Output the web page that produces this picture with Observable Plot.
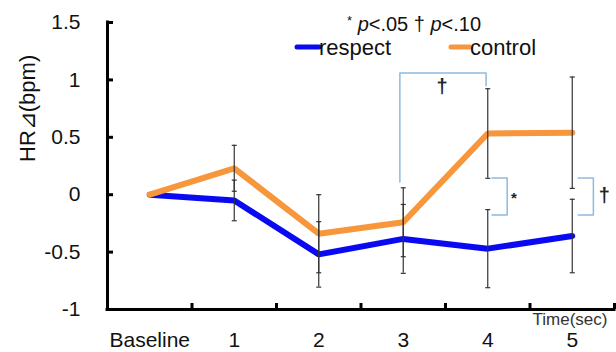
<!DOCTYPE html>
<html>
<head>
<meta charset="utf-8">
<script src="https://cdn.jsdelivr.net/npm/d3@7"></script>
<script src="https://cdn.jsdelivr.net/npm/@observablehq/plot@0.6"></script>
<style>
  body { margin: 0; background: #fff; }
  #chart { position: relative; width: 616px; height: 352px; }
</style>
</head>
<body>
<div id="chart"></div>
<script>
// ---- data ----
const categories = ["Baseline", "1", "2", "3", "4", "5"];
const respect    = [0, -0.05, -0.52, -0.385, -0.47, -0.36];
const control    = [0, 0.23, -0.34, -0.24, 0.533, 0.54];
const respectErr = [null, 0.177, 0.285, 0.30, 0.34, 0.32];
const controlErr = [null, 0.20, 0.34, 0.30, 0.39, 0.485];
const yTicks = [-1, -0.5, 0, 0.5, 1, 1.5];
const seriesNames = ["respect", "control"];
const seriesColors = ["#0a0af2", "#f7963a"];
// significance brackets (x in category index units, y in bpm)
const bracketX = [[2.96, 2.96, 3.98, 3.98], [4.05, 4.23, 4.23, 4.05], [5.07, 5.25, 5.25, 5.07]];
const bracketY = [[0.11, 1.06, 1.06, 0.95], [0.145, 0.145, -0.177, -0.177], [0.145, 0.145, -0.177, -0.177]];
const sigText = ["†", "*", "†"];
const sigX = [3.46, 4.31, 5.38];
const sigY = [0.94, -0.03, -0.01];
const yLabel = "HR⊿(bpm)";
const xLabel = "Time(sec)";

// ---- tables built from arrays ----
const rows = [];
[respect, control].forEach((vals, s) => {
  const errs = s === 0 ? respectErr : controlErr;
  vals.forEach((v, i) => rows.push({i, series: seriesNames[s], value: v, err: errs[i]}));
});
const errRows = rows.filter(d => d.err != null);
const capRows = errRows.flatMap(d => [{i: d.i, y: d.value - d.err}, {i: d.i, y: d.value + d.err}]);
const bracketRows = bracketX.flatMap((xs, b) => xs.map((x, k) => ({b, x, y: bracketY[b][k]})));
const sigRows = sigText.map((t, k) => ({t, x: sigX[k], y: sigY[k]}));

const capSymbol = {
  draw(ctx, size) {
    const r = Math.sqrt(size / Math.PI);
    ctx.moveTo(-r, 0); ctx.lineTo(r, 0);
  }
};

const font = "'Liberation Sans', Arial, sans-serif";

const plot = Plot.plot({
  width: 616,
  height: 352,
  marginLeft: 107,
  marginRight: 2,
  marginTop: 22,
  marginBottom: 43,
  style: {fontFamily: font, background: "#fff", color: "#111"},
  x: {domain: [-0.5, 5.5], axis: null},
  y: {domain: [-1, 1.5], axis: null},
  color: {domain: seriesNames, range: seriesColors},
  marks: [
    // axes lines
    Plot.ruleX([-0.5], {stroke: "#000", strokeWidth: 3, strokeLinecap: "square"}),
    Plot.ruleY([-1], {stroke: "#000", strokeWidth: 3, strokeLinecap: "square"}),
    // y tick marks (inward) and labels
    Plot.axisY(yTicks, {tickSize: 6, dx: 6, tickFormat: () => "", stroke: "#000", strokeWidth: 3, label: null}),
    Plot.axisY(yTicks, {tickSize: 0, tickPadding: 27, tickFormat: d => String(d), fontSize: 21, fill: "#111", label: null}),
    // x tick marks at category boundaries (inward)
    Plot.axisX(d3.range(6).map(i => i + 0.5), {tickSize: 6, dy: -6, tickFormat: () => "", stroke: "#000", strokeWidth: 3, label: null}),
    Plot.axisX(d3.range(6), {tickSize: 0, tickPadding: 23, tickFormat: i => categories[i], fontSize: 21, fill: "#111", label: null}),
    // axis titles
    Plot.text([yLabel], {frameAnchor: "left", dx: -80, dy: -4, rotate: -90, fontSize: 22, fill: "#111"}),
    Plot.text([xLabel], {frameAnchor: "bottom-right", dx: -7, dy: 15, textAnchor: "end", fontSize: 17, fill: "#333"}),
    // series lines
    Plot.line(rows.filter(d => d.series === "respect"), {x: "i", y: "value", stroke: "series", strokeWidth: 6, strokeLinejoin: "miter"}),
    Plot.line(rows.filter(d => d.series === "control"), {x: "i", y: "value", stroke: "series", strokeWidth: 6, strokeLinejoin: "miter"}),
    // error bars
    Plot.ruleX(errRows, {x: "i", y1: d => d.value - d.err, y2: d => d.value + d.err, stroke: "#333", strokeWidth: 1.2}),
    Plot.dot(capRows, {x: "i", y: "y", symbol: capSymbol, r: 2.5, stroke: "#333", strokeWidth: 1.2}),
    // significance brackets
    Plot.line(bracketRows, {x: "x", y: "y", z: "b", stroke: "#8dbbe0", strokeWidth: 1.5}),
    Plot.text(sigRows, {x: "x", y: "y", text: "t", fontSize: d => d.t === "*" ? 15 : 20, fontWeight: "bold", fill: "#222"})
  ]
});

document.getElementById("chart").appendChild(plot);

// ---- legend drawn into the svg ----
const svg = d3.select(plot);
const lg = svg.append("g").attr("font-family", font).attr("fill", "#111").attr("text-anchor", "start");
const sig = lg.append("text").attr("x", 347).attr("y", 31).attr("font-size", 20);
sig.append("tspan").attr("font-size", 13).attr("dy", -6).text("*");
sig.append("tspan").attr("dy", 6).text(" ");
sig.append("tspan").attr("font-style", "italic").text("p");
sig.append("tspan").text("<.05 † ");
sig.append("tspan").attr("font-style", "italic").text("p");
sig.append("tspan").text("<.10");

const legendItems = [
  {name: seriesNames[0], color: seriesColors[0], x0: 297, x1: 319},
  {name: seriesNames[1], color: seriesColors[1], x0: 451, x1: 470}
];
legendItems.forEach(it => {
  lg.append("line").attr("x1", it.x0).attr("x2", it.x1).attr("y1", 47).attr("y2", 47)
    .attr("stroke", it.color).attr("stroke-width", 5).attr("stroke-linecap", "round");
  lg.append("text").attr("x", it.x1).attr("y", 55).attr("font-size", 22).text(it.name);
});
</script>
</body>
</html>
